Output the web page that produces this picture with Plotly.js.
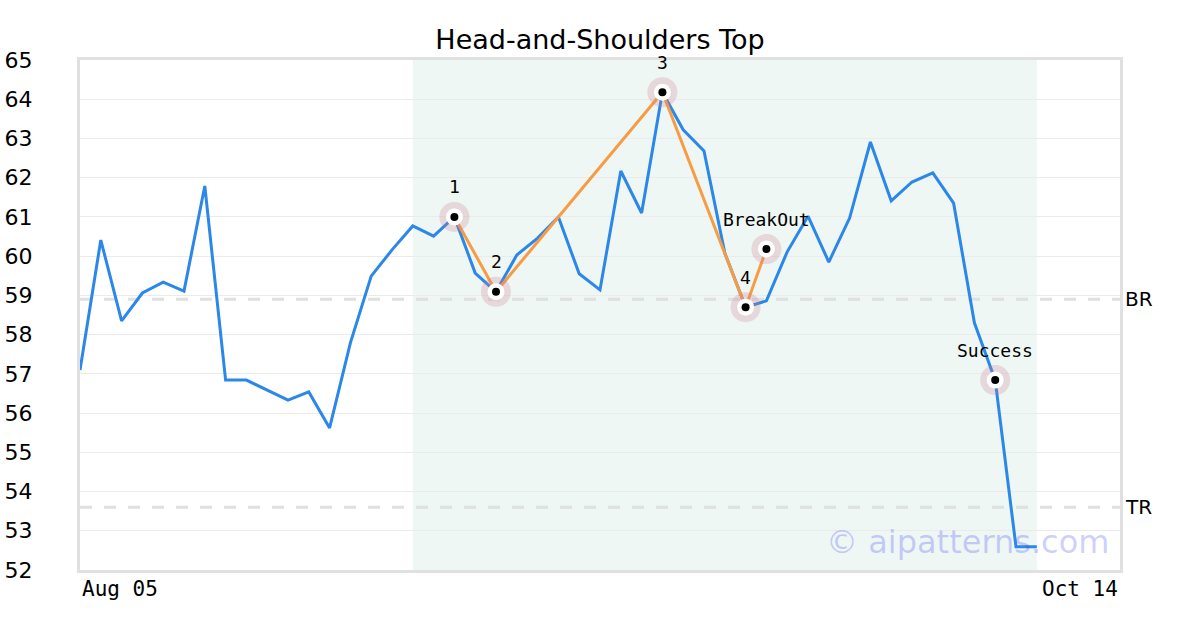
<!DOCTYPE html>
<html>
<head>
<meta charset="utf-8">
<script src="https://cdn.plot.ly/plotly-3.0.1.min.js"></script>
<style>html,body{margin:0;padding:0;background:#fff;}#chart{width:1200px;height:630px;}</style>
</head>
<body>
<div id="chart"></div>
<script>
// Daily closes (trading-day index 0 = Aug 05, 50 = Oct 14)
const dayIndex = [0,1,2,3,4,5,6,7,8,9,10,11,12,13,14,15,16,17,18,19,20,21,22,23,24,25,26,27,28,29,30,31,32,33,34,35,36,37,38,39,40,41,42,43,44,45,46];
const price = [57.10,60.41,58.35,59.06,59.34,59.11,61.79,56.84,56.84,56.59,56.33,56.54,55.62,57.79,59.49,60.16,60.77,60.51,61.00,59.57,59.09,60.03,60.46,61.00,59.55,59.14,62.17,61.10,64.18,63.22,62.68,60.08,58.70,58.86,60.11,61.02,59.85,60.97,62.91,61.41,61.89,62.12,61.35,58.30,56.84,52.59,52.59];

// Pattern pivots
const pivotX = [18,20,28,32,33];
const pivotY = [61.00,59.09,64.18,58.70,60.18];
const pivotLabels = ['1','2','3','4','BreakOut'];
const successX = [44];
const successY = [56.84];
const successLabel = ['Success'];

// Levels
const levelNames = ['BR','TR'];
const levelValues = [58.90,53.60];

// Pattern window
const windowStart = 16;
const windowEnd = 46;

// Axis
const xRange = [0,50];
const xTickVals = [0,50];
const xTickText = ['Aug 05','Oct 14'];
const yRange = [52,65];

const markX = pivotX.concat(successX);
const markY = pivotY.concat(successY);
const markLabels = pivotLabels.concat(successLabel);

const traces = [
  {x: dayIndex, y: price, type:'scatter', mode:'lines', line:{color:'#2b87e8', width:3}, hoverinfo:'skip'},
  {x: pivotX, y: pivotY, type:'scatter', mode:'lines', line:{color:'#f79c45', width:3}, hoverinfo:'skip'},
  {x: markX, y: markY, type:'scatter', mode:'markers', marker:{size:30, color:'rgba(205,120,145,0.25)'}, hoverinfo:'skip'},
  {x: markX, y: markY, type:'scatter', mode:'markers', marker:{size:17, color:'#ffffff'}, hoverinfo:'skip'},
  {x: markX, y: markY, type:'scatter', mode:'markers', marker:{size:8, color:'#000000'}, hoverinfo:'skip'}
];

const annotations = [];
markLabels.forEach((t,i)=>{
  annotations.push({x: markX[i], y: markY[i], xref:'x', yref:'y', text:t, showarrow:false,
    yshift:30, font:{family:'DejaVu Sans Mono', size:18, color:'#000'}});
});
levelNames.forEach((t,i)=>{
  annotations.push({x:1, y: levelValues[i], xref:'paper', yref:'y', text:t, showarrow:false,
    xanchor:'left', xshift:3, font:{family:'DejaVu Sans', size:20, color:'#000'}});
});
xTickVals.forEach((v,i)=>{
  annotations.push({x:v, y:0, xref:'x', yref:'paper', text:xTickText[i], showarrow:false,
    xanchor: i===0 ? 'left' : 'right', yanchor:'top', yshift:-5,
    font:{family:'DejaVu Sans Mono', size:21, color:'#000'}});
});
annotations.push({x:1, y:0.055, xref:'paper', yref:'paper', text:'© aipatterns.com', showarrow:false,
  xanchor:'right', yanchor:'middle', xshift:-9, font:{family:'DejaVu Sans', size:32, color:'rgba(60,60,255,0.25)'}});

const shapes = [
  {type:'rect', xref:'x', yref:'paper', x0:windowStart, x1:windowEnd, y0:0, y1:1,
   fillcolor:'rgba(20,140,90,0.07)', line:{width:0}, layer:'below'}
];
levelValues.forEach(v=>{
  shapes.push({type:'line', xref:'paper', yref:'y', x0:0, x1:1, y0:v, y1:v,
    line:{color:'#e0e0e0', width:3, dash:'12px,12px'}, layer:'below'});
});

const layout = {
  width:1200, height:630,
  margin:{l:80, r:80, t:60, b:60},
  paper_bgcolor:'#ffffff', plot_bgcolor:'#ffffff',
  showlegend:false,
  title:{text:'Head-and-Shoulders Top', x:0.5, xanchor:'center', y:1-40/630, yanchor:'middle', yref:'container',
    font:{family:'DejaVu Sans', size:27, color:'#000'}},
  xaxis:{range:xRange, showgrid:false, zeroline:false, showticklabels:false, ticks:'',
    showline:true, mirror:true, linecolor:'#e0e0e0', linewidth:3},
  yaxis:{range:yRange, dtick:1, tick0:52, showgrid:true, gridcolor:'#ebebeb', gridwidth:1, zeroline:false,
    ticks:'', ticklabelstandoff:40, tickfont:{family:'DejaVu Sans', size:22, color:'#000'},
    showline:true, mirror:true, linecolor:'#e0e0e0', linewidth:3},
  shapes:shapes,
  annotations:annotations
};

Plotly.newPlot('chart', traces, layout, {staticPlot:true, displayModeBar:false});
</script>
</body>
</html>
